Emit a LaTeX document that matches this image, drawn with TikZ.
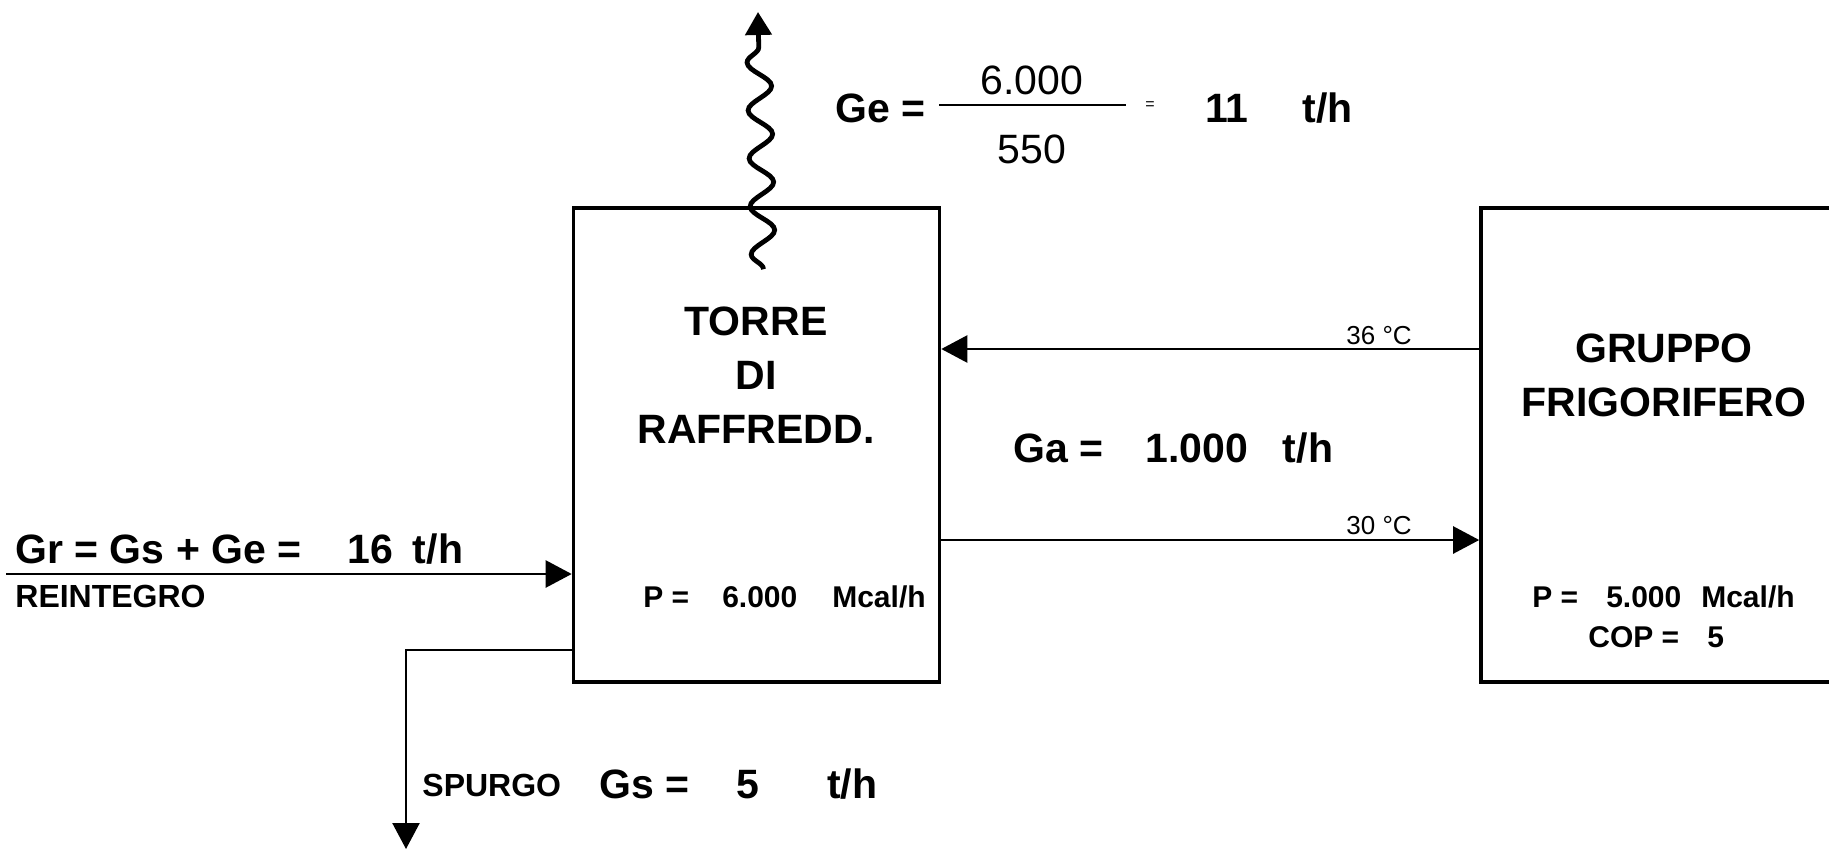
\documentclass[tikz,border=0pt]{standalone}
\usepackage{fontspec}
\setmainfont{Liberation Sans}
\usetikzlibrary{arrows.meta,decorations.pathmorphing}

\tikzset{
  blocco/.style={draw, line width=1.8pt, minimum height=237pt, inner sep=0pt},
  flusso/.style={line width=1.2pt, -{Triangle[length=13pt,width=13.5pt]}},
  vapore/.style={line width=2.4pt, decorate,
    decoration={snake, amplitude=6pt, segment length=24pt, post length=12pt},
    -{Triangle[length=11.5pt,width=13pt]}},
  testo/.style={inner sep=0pt, anchor=base west},
  grande/.style={font=\fontsize{20.5}{27}\selectfont\bfseries},
  normale/.style={font=\fontsize{20.5}{27}\selectfont},
  medio/.style={font=\fontsize{15}{20}\selectfont\bfseries},
  etichetta/.style={font=\fontsize{16}{19}\selectfont\bfseries},
  temp/.style={font=\fontsize{13}{15}\selectfont},
}

\begin{document}
\begin{tikzpicture}[x=0.5pt, y=-0.5pt]
    \useasboundingbox (0,0) rectangle (1829,851);
    \clip (0,0) rectangle (1829,851);

    % Blocchi
    \node[blocco, minimum width=183pt] (torre) at (756.5,445) {};
    \node[blocco, minimum width=209.5pt] (gruppo) at (1690.5,445) {};

    % Testi nei blocchi
    \node[grande, align=center, inner sep=0pt] (torrenome) at (756,375) {TORRE\\DI\\RAFFREDD.};
    \node[testo, medio] (torreP) at (643,607) {P =\hspace{16.5pt}6.000\hspace{17.5pt}Mcal/h};
    \node[grande, align=center, inner sep=0pt] (grupponome) at (1664,375) {GRUPPO\\FRIGORIFERO};
    \node[testo, medio] (gruppoP) at (1532,607) {P =\hspace{14pt}5.000\hspace{10pt}Mcal/h};
    \node[testo, medio] (gruppoCOP) at (1588,647) {COP =\hspace{14pt}5};

    % Circuito dell'acqua di torre
    \draw[flusso] ([yshift=48pt]gruppo.west) -- ([yshift=48pt]torre.east);
    \draw[flusso] ([yshift=-47.5pt]torre.east) -- ([yshift=-47.5pt]gruppo.west);
    \node[testo, temp] (t36) at (1346,344) {36 °C};
    \node[testo, temp] (t30) at (1346,534) {30 °C};
    \node[testo, grande] (portata) at (1013,462.5) {Ga =\hspace{21pt}1.000\hspace{17.5pt}t/h};

    % Evaporazione
    \coordinate (sfiato) at (758,12);
    \draw[vapore] ([xshift=3.5pt, yshift=-31.5pt]torre.north) -- (sfiato);
    \node[testo, grande] (ge) at (835,122.5) {Ge =};
    \draw[line width=1.2pt] (939,105) -- (1126,105);
    \node[normale, inner sep=0pt, anchor=base] (num) at (1032,94) {6.000};
    \node[normale, inner sep=0pt, anchor=base] (den) at (1032,163) {550};
    \node[font=\fontsize{8}{9}\selectfont, inner sep=0pt] (uguale) at (1150,106) {=};
    \node[testo, grande] (gevalore) at (1205,122.5) {11\hspace{27pt}t/h};

    % Reintegro
    \coordinate (ingresso) at (6,574);
    \draw[flusso] (ingresso) -- (torre.west |- ingresso);
    \node[testo, grande] (gr) at (15,563.5) {Gr = Gs + Ge =\hspace{23pt}16\hspace{10pt}t/h};
    \node[testo, etichetta] (reint) at (15,607.5) {REINTEGRO};

    % Spurgo
    \coordinate (scarico) at (406,849);
    \draw[flusso] ([yshift=-102.5pt]torre.west) -| (scarico);
    \node[testo, etichetta] (spurgo) at (422,796) {SPURGO};
    \node[testo, grande] (gs) at (599,798) {Gs =\hspace{23.5pt}5\hspace{34pt}t/h};
\end{tikzpicture}
\end{document}
